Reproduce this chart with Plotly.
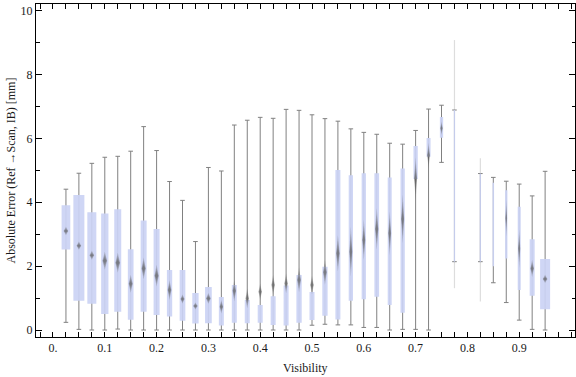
import plotly.graph_objects as go

# ---------------- data ----------------
visibility = [0.025, 0.05, 0.075, 0.1, 0.125, 0.15, 0.175, 0.2, 0.225, 0.25,
              0.275, 0.3, 0.325, 0.35, 0.375, 0.4, 0.425, 0.45, 0.475, 0.5,
              0.525, 0.55, 0.575, 0.6, 0.625, 0.65, 0.675, 0.7, 0.725, 0.75,
              0.775, 0.825, 0.85, 0.875, 0.9, 0.925, 0.95]
whisker_lo = [0.24, 0.02, 0.0, 0.0, 0.03, 0.0, 0.0, 0.0, 0.0, 0.0,
              0.0, 0.0, 0.0, 0.0, 0.0, 0.0, 0.0, 0.0, 0.0, 0.15,
              0.18, 0.16, 0.16, 0.08, 0.08, 0.0, 0.02, 0.02, 0.0, 5.25,
              2.14, 2.14, 1.48, 0.86, 0.31, 0.02, 0.0]
q1 = [2.52, 0.92, 0.82, 0.50, 0.57, 0.32, 0.57, 0.47, 0.42, 0.29,
      0.20, 0.21, 0.14, 0.23, 0.21, 0.23, 0.16, 0.14, 0.23, 0.31,
      0.45, 0.33, 0.92, 0.96, 1.04, 0.78, 0.54, 4.73, 5.43, 6.02,
      2.14, 2.14, 2.00, 2.24, 1.25, 1.07, 0.65]
median = [3.10, 2.64, 2.34, 2.17, 2.11, 1.45, 1.93, 1.70, 1.25, 0.97,
          0.75, 0.99, 0.73, 1.23, 0.99, 1.20, 1.41, 1.46, 1.57, 1.41,
          1.81, 2.40, 2.45, 2.82, 3.16, 3.03, 3.48, 4.74, 5.47, 6.32,
          None, None, None, 3.50, 2.55, 1.93, 1.60]
q3 = [3.91, 4.23, 3.69, 3.65, 3.78, 2.53, 3.43, 3.16, 1.88, 1.88,
      1.16, 1.35, 1.03, 1.41, 0.94, 0.78, 1.06, 1.39, 1.72, 1.19,
      1.98, 5.01, 4.85, 4.91, 4.91, 4.78, 5.06, 5.76, 6.01, 6.67,
      6.89, 4.90, 4.61, 4.38, 3.86, 2.84, 2.22]
whisker_hi = [4.41, 4.91, 5.22, 5.41, 5.44, 5.60, 6.37, 5.62, 4.65, 4.06,
              2.77, 5.09, 4.98, 6.42, 6.57, 6.66, 6.63, 6.91, 6.88, 6.74,
              6.62, 6.54, 6.30, 6.19, 6.13, 5.85, 5.82, 6.25, 6.92, 7.04,
              6.89, 4.90, 4.78, 4.66, 4.57, 4.20, 4.97]
# spread of the median estimate (half height of the median marker)
median_spread = [0.13, 0.13, 0.14, 0.28, 0.31, 0.28, 0.34, 0.34, 0.31, 0.14,
                 0.11, 0.17, 0.21, 0.34, 0.31, 0.26, 0.31, 0.31, 0.39, 0.29,
                 0.39, 0.57, 0.78, 0.63, 0.65, 0.68, 0.76, 0.67, 0.39, 0.21,
                 None, None, None, 0.57, 0.60, 0.27, 0.13]
# relative sample weight of each bin (drawn as box width)
bin_weight = [8.7, 11, 9, 7.3, 7, 5.7, 6, 6, 5.3, 5.7,
              6.3, 6.7, 5, 5, 5, 5, 5, 5, 5.3, 5,
              5.3, 5, 4.3, 4.3, 4.7, 4, 4.3, 4.3, 4, 3.3,
              1.2, 1.2, 1.5, 2.3, 3, 5, 10]
# faint extreme range for sparse bins
extreme_lo = [None] * 30 + [1.31, 0.89, None, None, None, None, None]
extreme_hi = [None] * 30 + [9.08, 5.38, None, None, None, None, None]

x_tickvals = [0.0, 0.1, 0.2, 0.3, 0.4, 0.5, 0.6, 0.7, 0.8, 0.9]
x_ticktext = ["0.", "0.1", "0.2", "0.3", "0.4", "0.5", "0.6", "0.7", "0.8", "0.9"]
y_tickvals = [0, 2, 4, 6, 8, 10]

# ---------------- layout constants ----------------
W, H = 576, 377
ML, MR, MT, MB = 36, 1, 4, 40
XR = [-0.0328, 1.0077]
YR = [-0.219, 10.21]
PX_X = (XR[1] - XR[0]) / (W - ML - MR)   # x units per pixel
CAP = 2.3 * PX_X
FONT = "Liberation Serif"

fig = go.Figure()

# faint extreme ranges
fx, fy = [], []
for x, lo, hi in zip(visibility, extreme_lo, extreme_hi):
    if lo is None:
        continue
    fx += [x, x, None]
    fy += [lo, hi, None]
fig.add_trace(go.Scatter(x=fx, y=fy, mode="lines",
                         line=dict(color="#DDDDDD", width=1.2),
                         hoverinfo="skip", showlegend=False))

# whiskers with caps
wx, wy = [], []
for x, lo, hi in zip(visibility, whisker_lo, whisker_hi):
    wx += [x, x, None, x - CAP, x + CAP, None, x - CAP, x + CAP, None]
    wy += [lo, hi, None, lo, lo, None, hi, hi, None]
fig.add_trace(go.Scatter(x=wx, y=wy, mode="lines",
                         line=dict(color="#808080", width=1),
                         hoverinfo="skip", showlegend=False))

# boxes
bx, by = [], []
for x, a, b, wgt in zip(visibility, q1, q3, bin_weight):
    h = wgt * PX_X / 2
    bx += [x - h, x + h, x + h, x - h, x - h, None]
    by += [a, a, b, b, a, None]
fig.add_trace(go.Scatter(x=bx, y=by, mode="lines", fill="toself",
                         fillcolor="rgba(203,210,244,0.92)",
                         line=dict(width=0), hoverinfo="skip", showlegend=False))

# median markers (soft diamonds built from layered polygons)
for k in [1.0, 0.72, 0.48, 0.26]:
    mx, my = [], []
    for x, m, s, wgt in zip(visibility, median, median_spread, bin_weight):
        if m is None:
            continue
        w = min(2.4, 0.36 * wgt) * PX_X * (0.6 + 0.4 * k)
        hh = s * k
        mx += [x, x + w, x, x - w, x, None]
        my += [m - hh, m, m + hh, m, m - hh, None]
    fig.add_trace(go.Scatter(x=mx, y=my, mode="lines", fill="toself",
                             fillcolor="rgba(90,90,90,0.27)",
                             line=dict(width=0), hoverinfo="skip",
                             showlegend=False))

axis_common = dict(showline=True, linecolor="black", linewidth=1, mirror="ticks",
                   ticks="inside", tickcolor="black", showgrid=False,
                   zeroline=False, tickfont=dict(family=FONT, size=12, color="#1a1a1a"))

fig.update_xaxes(range=XR, tickmode="array", tickvals=x_tickvals, ticktext=x_ticktext,
                 ticklen=5, tickwidth=1,
                 minor=dict(dtick=0.025, tick0=0, ticks="inside", ticklen=5,
                            tickcolor="black", tickwidth=1, showgrid=False),
                 **axis_common)
fig.update_yaxes(range=YR, tickmode="array", tickvals=y_tickvals,
                 ticklen=6, tickwidth=1,
                 minor=dict(dtick=1, tick0=0, ticks="inside", ticklen=3.5,
                            tickcolor="black", tickwidth=1, showgrid=False),
                 **axis_common)

fig.add_annotation(text="Visibility", xref="paper", yref="paper",
                   x=0.5, y=-31 / (H - MT - MB), xanchor="center", yanchor="middle",
                   showarrow=False, font=dict(family=FONT, size=12, color="#1a1a1a"))
fig.add_annotation(text="Absolute Error (Ref \u2192Scan, IB) [mm]", xref="paper", yref="paper",
                   x=-26 / (W - ML - MR), y=0.5, xanchor="center", yanchor="middle",
                   textangle=-90, showarrow=False,
                   font=dict(family=FONT, size=12, color="#1a1a1a"))

fig.update_layout(width=W, height=H, margin=dict(l=ML, r=MR, t=MT, b=MB),
                  paper_bgcolor="white", plot_bgcolor="white", showlegend=False)

fig.write_html("out.html",
               config={"displayModeBar": False},
               post_script="document.body.style.margin='0px';"
                           "document.body.style.overflow='hidden';")
